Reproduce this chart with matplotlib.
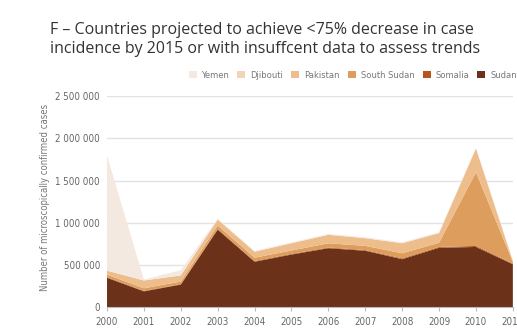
import os
import matplotlib
matplotlib.use("Agg")
import matplotlib.pyplot as plt
from matplotlib.patches import Patch
from matplotlib.ticker import FuncFormatter
from matplotlib import font_manager as fm
from matplotlib.font_manager import FontProperties

years = [2000, 2001, 2002, 2003, 2004, 2005, 2006, 2007, 2008, 2009, 2010, 2011]
sudan = [350000, 190000, 270000, 920000, 540000, 625000, 700000, 670000, 570000, 705000, 715000, 510000]
somalia = [8000, 6000, 6000, 8000, 8000, 8000, 8000, 8000, 10000, 10000, 12000, 8000]
south_sudan = [30000, 30000, 30000, 40000, 40000, 40000, 50000, 50000, 60000, 50000, 870000, 20000]
pakistan = [46000, 92000, 72000, 70000, 70000, 85000, 100000, 90000, 118000, 113000, 281000, 10000]
djibouti = [2000, 2000, 2000, 2000, 2000, 2000, 2000, 2000, 2000, 2000, 2000, 2000]
yemen = [1360000, 10000, 60000, 10000, 8000, 10000, 10000, 10000, 10000, 10000, 10000, 5000]

series_names = ["Yemen", "Djibouti", "Pakistan", "South Sudan", "Somalia", "Sudan"]
colors = {"Yemen": "#f4e9e1", "Djibouti": "#f1d6b6", "Pakistan": "#edbd8b",
          "South Sudan": "#dd9d5c", "Somalia": "#b3561f", "Sudan": "#6b3219"}
yticks = [0, 500000, 1000000, 1500000, 2000000, 2500000]

title = "F – Countries projected to achieve <75% decrease in case\nincidence by 2015 or with insuffcent data to assess trends"
ylabel = "Number of microscopically confirmed cases"

# pick a condensed sans font file if one is installed
cond_file = None
prefs = ["notosans-extracondensed.", "liberationsansnarrow-regular", "notosans-condensed.",
         "notosans-semicondensed.", "dejavusanscondensed.", "robotocondensed-regular",
         "opensans-condensedregular", "opensans_condensed-regular"]
files = [f.fname for f in fm.fontManager.ttflist]
for p in prefs:
    hit = [f for f in files if p in os.path.basename(f).lower()]
    if hit:
        cond_file = hit[0]
        break


def cprop(size):
    if cond_file:
        return FontProperties(fname=cond_file, size=size)
    return FontProperties(family="Roboto", size=size)


fig = plt.figure(figsize=(5.17, 3.32), dpi=100)
renderer = fig.canvas.get_renderer()


def fit_size(text, target_px, propfunc):
    t = fig.text(0, 0, text, fontproperties=propfunc(10))
    w = t.get_window_extent(renderer).width
    t.remove()
    return 10 * target_px / w


tick_size = fit_size("2 500 000", 45, cprop)
leg_size = fit_size("South Sudan", 54, cprop)
ylab_size = fit_size(ylabel, 188, cprop)


def tprop(size):
    return FontProperties(family=["Open Sans", "DejaVu Sans"], size=size)


title_size = fit_size(title.split("\n")[0], 423, tprop)

ax = fig.add_axes([0.207, 0.074, 0.785, 0.637])

stack_order = [("Sudan", sudan), ("Somalia", somalia), ("South Sudan", south_sudan),
               ("Pakistan", pakistan), ("Djibouti", djibouti), ("Yemen", yemen)]
ax.stackplot(years, *[v for _, v in stack_order],
             colors=[colors[n] for n, _ in stack_order], linewidth=0, zorder=2)

ax.set_xlim(2000, 2011)
ax.set_ylim(0, 2500000)
ax.set_yticks(yticks)
ax.yaxis.set_major_formatter(FuncFormatter(lambda v, p: f"{int(v):,}".replace(",", " ")))
ax.set_xticks(years)
ax.set_xticklabels([str(y) for y in years])
ax.grid(axis="y", color="#e3e3e3", linewidth=1.0, zorder=0)
ax.set_axisbelow(True)
for s in ["top", "right", "left"]:
    ax.spines[s].set_visible(False)
ax.spines["bottom"].set_color("#bbbbbb")
ax.spines["bottom"].set_linewidth(0.8)
ax.tick_params(axis="y", length=0, pad=5, labelcolor="#666666")
ax.tick_params(axis="x", length=3, color="#bbbbbb", pad=4, labelcolor="#666666")
for lab in ax.get_xticklabels() + ax.get_yticklabels():
    lab.set_fontproperties(cprop(tick_size))

fig.text(0.087, 0.405, ylabel, rotation=90, ha="center", va="center",
         color="#777777", fontproperties=cprop(ylab_size))

fig.text(0.097, 0.935, title, ha="left", va="top", color="#333333",
         fontproperties=tprop(title_size), linespacing=1.3)

fs_px = leg_size * 100 / 72
handles = [Patch(facecolor=colors[n], edgecolor="none") for n in series_names]
leg = fig.legend(handles, series_names, loc="center right", bbox_to_anchor=(1.0, 0.774),
                 ncol=6, frameon=False, handlelength=8 / fs_px, handleheight=8 / fs_px,
                 handletextpad=5 / fs_px, columnspacing=8 / fs_px, borderaxespad=0,
                 borderpad=0, prop=cprop(leg_size))
for t in leg.get_texts():
    t.set_color("#777777")

fig.savefig("out.png", dpi=100)
